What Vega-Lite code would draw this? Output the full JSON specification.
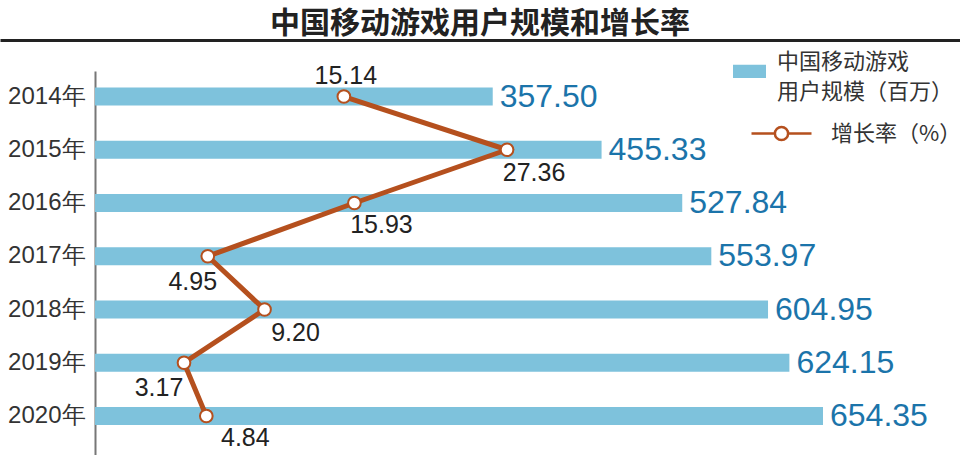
{
  "$schema": "https://vega.github.io/schema/vega-lite/v6.json",
  "width": 960,
  "height": 384,
  "autosize": {"type": "none"},
  "padding": {"top": 71, "left": 0, "right": 0, "bottom": 0},
  "background": "white",
  "config": {"view": {"stroke": null}, "font": "Liberation Sans"},
  "title": {
    "text": "中国移动游戏用户规模和增长率",
    "font": "Noto Sans CJK SC",
    "fontSize": 30,
    "fontWeight": "bold",
    "color": "#222222",
    "anchor": "middle",
    "offset": 1
  },
  "data": {
    "values": [
      {"year": "2014年", "users": 357.50, "rate": 15.14},
      {"year": "2015年", "users": 455.33, "rate": 27.36},
      {"year": "2016年", "users": 527.84, "rate": 15.93},
      {"year": "2017年", "users": 553.97, "rate": 4.95},
      {"year": "2018年", "users": 604.95, "rate": 9.20},
      {"year": "2019年", "users": 624.15, "rate": 3.17},
      {"year": "2020年", "users": 654.35, "rate": 4.84}
    ]
  },
  "encoding": {
    "y": {
      "field": "year",
      "type": "nominal",
      "sort": null,
      "scale": {"paddingInner": 0.662, "paddingOuter": 0.4366, "align": 0.355},
      "axis": {
        "title": null,
        "offset": -95,
        "domainColor": "#777777",
        "domainWidth": 2,
        "ticks": false,
        "labelFont": "Liberation Sans",
        "labelFontSize": 24,
        "labelColor": "#333333",
        "labelPadding": 10
      }
    }
  },
  "layer": [
    {
      "encoding": {
        "x": {
          "field": "users",
          "type": "quantitative",
          "scale": {"domain": [-85.39, 777.5], "nice": false, "zero": false},
          "axis": {
            "orient": "top",
            "offset": 31,
            "title": null,
            "labels": false,
            "ticks": false,
            "grid": false,
            "domainColor": "#222222",
            "domainWidth": 3
          }
        }
      },
      "layer": [
        {
          "mark": {"type": "bar"},
          "encoding": {
            "x2": {"datum": 0},
            "color": {
              "datum": "中国移动游戏用户规模（百万）",
              "type": "nominal",
              "scale": {"range": ["#7ec2dc"]},
              "legend": {
                "title": null,
                "orient": "none",
                "legendX": 733,
                "legendY": -26,
                "symbolType": "M-1,0.2H1V1H-1Z",
                "symbolSize": 1089,
                "symbolStrokeWidth": 0,
                "labelExpr": "['中国移动游戏', '用户规模（百万）']",
                "labelFont": "Noto Sans CJK SC",
                "labelFontSize": 22,
                "labelColor": "#333333",
                "labelOffset": 11,
                "labelLimit": 300,
                "encode": {"labels": {"update": {"lineHeight": {"value": 30}}}}
              }
            }
          }
        },
        {
          "mark": {"type": "text", "align": "left", "baseline": "middle", "dx": 7, "fontSize": 32, "color": "#1b74aa", "font": "Liberation Sans"},
          "encoding": {
            "text": {"field": "users", "type": "quantitative", "format": ".2f"}
          }
        }
      ]
    },
    {
      "encoding": {
        "x": {
          "field": "rate",
          "type": "quantitative",
          "scale": {"domain": [-10.61, 61.28], "nice": false, "zero": false},
          "axis": null
        }
      },
      "layer": [
        {
          "mark": {"type": "line", "strokeWidth": 5},
          "encoding": {
            "stroke": {
              "datum": "增长率（%）",
              "type": "nominal",
              "scale": {"range": ["#b5501e"]},
              "legend": {
                "title": null,
                "orient": "none",
                "legendX": 750,
                "legendY": 31,
                "symbolType": "M-1,0H-0.22M0.22,0H1M0.22,0A0.22,0.22,0,1,1,-0.22,0A0.22,0.22,0,1,1,0.22,0",
                "symbolSize": 3600,
                "symbolStrokeWidth": 2.5,
                "symbolFillColor": "white",
                "labelFont": "Noto Sans CJK SC",
                "labelFontSize": 22,
                "labelColor": "#333333",
                "labelOffset": 18,
                "labelLimit": 300
              }
            }
          }
        },
        {
          "mark": {"type": "point", "filled": true, "fill": "white", "stroke": "#b5501e", "strokeWidth": 2, "size": 160, "opacity": 1, "shape": "circle"},
          "encoding": {}
        },
        {
          "transform": [{"filter": "datum.year == '2014年'"}],
          "mark": {"type": "text", "dx": 2, "dy": -21, "fontSize": 25, "color": "#222222"},
          "encoding": {"text": {"field": "rate", "type": "quantitative", "format": ".2f"}}
        },
        {
          "transform": [{"filter": "datum.year == '2015年'"}],
          "mark": {"type": "text", "dx": 27, "dy": 23, "fontSize": 25, "color": "#222222"},
          "encoding": {"text": {"field": "rate", "type": "quantitative", "format": ".2f"}}
        },
        {
          "transform": [{"filter": "datum.year == '2016年'"}],
          "mark": {"type": "text", "dx": 27, "dy": 22, "fontSize": 25, "color": "#222222"},
          "encoding": {"text": {"field": "rate", "type": "quantitative", "format": ".2f"}}
        },
        {
          "transform": [{"filter": "datum.year == '2017年'"}],
          "mark": {"type": "text", "dx": -15, "dy": 26, "fontSize": 25, "color": "#222222"},
          "encoding": {"text": {"field": "rate", "type": "quantitative", "format": ".2f"}}
        },
        {
          "transform": [{"filter": "datum.year == '2018年'"}],
          "mark": {"type": "text", "dx": 31, "dy": 23, "fontSize": 25, "color": "#222222"},
          "encoding": {"text": {"field": "rate", "type": "quantitative", "format": ".2f"}}
        },
        {
          "transform": [{"filter": "datum.year == '2019年'"}],
          "mark": {"type": "text", "dx": -25, "dy": 25, "fontSize": 25, "color": "#222222"},
          "encoding": {"text": {"field": "rate", "type": "quantitative", "format": ".2f"}}
        },
        {
          "transform": [{"filter": "datum.year == '2020年'"}],
          "mark": {"type": "text", "dx": 39, "dy": 22, "fontSize": 25, "color": "#222222"},
          "encoding": {"text": {"field": "rate", "type": "quantitative", "format": ".2f"}}
        }
      ]
    }
  ],
  "resolve": {"scale": {"x": "independent"}}
}
